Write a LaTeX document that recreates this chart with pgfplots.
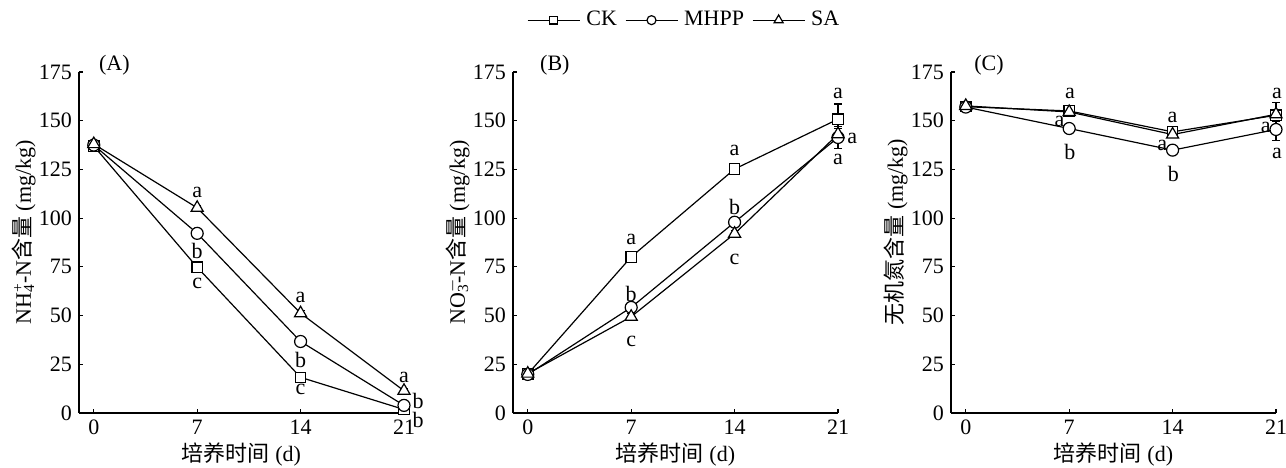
\documentclass[border=0pt]{standalone}
\usepackage{pgfplots}
\pgfplotsset{compat=1.18}
\usepackage{fontspec}
\setmainfont{Liberation Serif}
\newfontfamily\cjk{Noto Sans CJK SC}

% shared look of the three panels
\pgfplotsset{
  panel/.style={
    scale only axis, width=162.5pt, height=170.5pt,
    xmin=-1, xmax=21, ymin=0, ymax=175,
    xtick={0,7,14,21}, ytick={0,25,...,175},
    axis x line=bottom, axis y line=left,
    axis line style={-, line width=0.6pt},
    tick align=inside, major tick length=2.2pt,
    tick style={line width=0.6pt, black},
    clip=false,
    /pgf/number format/assume math mode=true,
    xlabel={{\cjk 培养时间} (d)},
    xlabel style={at={(axis description cs:0.5,0)}, anchor=center, yshift=-21pt},
    ylabel style={at={(axis description cs:0,0.53)}, anchor=center, yshift=27.5pt},
    legend image code/.code={\draw[mark repeat=2,mark phase=2,#1,
      /tikz/every mark/.append style={scale=0.75}]
      plot coordinates {(0pt,0pt)(13pt,0pt)(26pt,0pt)};},
  },
  ser/.style={black, line width=0.6pt,
    mark options={solid, fill=white, line width=0.6pt},
    error bars/y dir=both, error bars/y explicit,
    error bars/error bar style={line width=0.6pt, black},
    error bars/error mark options={rotate=90, mark size=2pt, line width=0.6pt, black}},
  ck/.style={ser, mark=square*, mark size=2.6pt},
  mh/.style={ser, mark=*, mark size=3pt},
  sa/.style={ser, mark=triangle*, mark size=3.5pt},
}

\begin{document}
\begin{tikzpicture}[font=\fontsize{11}{13}\selectfont]
\path[use as bounding box] (-39.5pt,-27pt) rectangle (603.5pt,206.5pt);

% (A) NH4+-N
\begin{axis}[panel, at={(0pt,0pt)}, anchor=south west,
  ylabel={NH\rlap{\textsuperscript{+}}\textsubscript{4}-N{\cjk 含量} (mg/kg)}]
\addplot[ck] coordinates {(0,137) +- (0,1) (7,74.8) +- (0,1.5) (14,18.3) +- (0,1.5) (21,1.8) +- (0,0.8)};
\addplot[mh] coordinates {(0,137.5) +- (0,1) (7,92.2) +- (0,1.5) (14,36.7) +- (0,1.5) (21,3.9) +- (0,1.5)};
\addplot[sa] coordinates {(0,138) +- (0,1) (7,105.3) +- (0,1) (14,51.2) +- (0,1.5) (21,11.4) +- (0,1)};
\node at (axis description cs:0.04,1.02) [anchor=west] {(A)};
\node at (axis cs:7,113) {a};
\node at (axis cs:7,83) {b};
\node at (axis cs:7,66.6) {c};
\node at (axis cs:14,59.4) {a};
\node at (axis cs:14,27) {b};
\node at (axis cs:14,12) {c};
\node at (axis cs:21,18.4) {a};
\node at (axis cs:21.95,6.3) {b};
\node at (axis cs:21.95,-3.4) {b};
\end{axis}

% (B) NO3--N
\begin{axis}[panel, at={(217pt,0pt)}, anchor=south west,
  ylabel={NO\rlap{\textsuperscript{$-$}}\textsubscript{3}-N{\cjk 含量} (mg/kg)},
  legend style={draw=none, fill=none, legend columns=3,
    at={(axis description cs:0.53,1.152)}, anchor=center,
    /tikz/every even column/.append style={column sep=2pt},
    /tikz/every odd column/.append style={column sep=1pt}},
  legend cell align=left]
\addplot[ck] coordinates {(0,20) +- (0,1.5) (7,80.1) +- (0,1.5) (14,125.2) +- (0,1.5) (21,150.8) +- (0,7.8)};
\addplot[mh] coordinates {(0,19.8) +- (0,1) (7,54.2) +- (0,1.5) (14,97.9) +- (0,1.5) (21,141.4) +- (0,5.5)};
\addplot[sa] coordinates {(0,20.2) +- (0,1) (7,49.4) +- (0,1.5) (14,92.0) +- (0,1.5) (21,143.1) +- (0,3)};
\legend{CK,MHPP,SA}
\node at (axis description cs:0.062,1.02) [anchor=west] {(B)};
\node at (axis cs:7,88.9) {a};
\node at (axis cs:7,61.3) {b};
\node at (axis cs:7,36.6) {c};
\node at (axis cs:14,134.6) {a};
\node at (axis cs:14,105.6) {b};
\node at (axis cs:14,78.9) {c};
\node at (axis cs:21,163.9) {a};
\node at (axis cs:21.97,141.1) {a};
\node at (axis cs:21,130) {a};
\end{axis}

% (C) inorganic N
\begin{axis}[panel, at={(436pt,0pt)}, anchor=south west,
  ylabel={{\cjk 无机氮含量} (mg/kg)}]
\addplot[ck] coordinates {(0,157.2) +- (0,1) (7,155.0) +- (0,1.5) (14,144.3) +- (0,1.5) (21,152.8) +- (0,3)};
\addplot[mh] coordinates {(0,157) +- (0,1) (7,146.0) +- (0,1.5) (14,134.9) +- (0,1.5) (21,145.5) +- (0,5.5)};
\addplot[sa] coordinates {(0,157.6) +- (0,1) (7,154.5) +- (0,1) (14,142.9) +- (0,1.5) (21,153.3) +- (0,6)};
\node at (axis description cs:0.05,1.02) [anchor=west] {(C)};
\node at (axis cs:7.05,163.9) {a};
\node at (axis cs:6.35,149.4) {a};
\node at (axis cs:7.05,134) {b};
\node at (axis cs:14,151.6) {a};
\node at (axis cs:13.3,137.4) {a};
\node at (axis cs:14.05,122.9) {b};
\node at (axis cs:21.07,164.2) {a};
\node at (axis cs:20.3,146.5) {a};
\node at (axis cs:21.07,133.2) {a};
\end{axis}
\end{tikzpicture}
\end{document}
